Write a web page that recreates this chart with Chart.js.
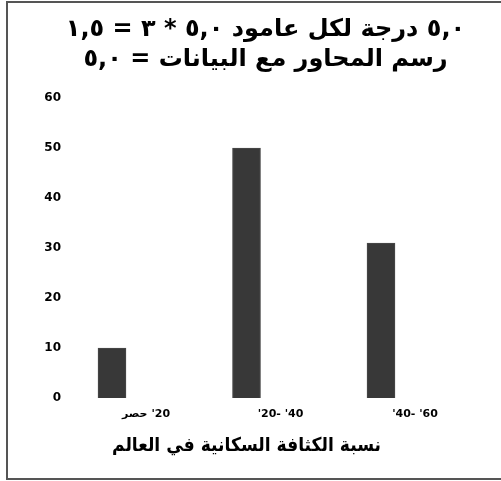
<!DOCTYPE html>
<html>
<head>
<meta charset="utf-8">
<script src="https://cdn.jsdelivr.net/npm/chart.js@4"></script>
<style>
  html, body { margin: 0; padding: 0; background: #fff; }
  #wrap { position: relative; width: 501px; height: 481px; overflow: hidden; }
  #frame { position: absolute; left: 6px; top: 1px; width: 520px; height: 479px;
           border-left: 2px solid #555; border-top: 2px solid #555; border-bottom: 2px solid #555; box-sizing: border-box; }
  canvas { position: absolute; left: 0; top: 0; }
</style>
</head>
<body>
<div id="wrap">
  <canvas id="c" width="501" height="481"></canvas>
  <div id="frame"></div>
</div>
<script>
const titleLines = ["٥,٠ درجة لكل عامود ٥,٠ * ٣ = ١,٥", "رسم المحاور مع البيانات = ٥,٠"];
const categories = ["حصر\u200E '20", "'20- '40", "'40- '60"];
const values = [10, 50, 31];
const yTicks = { min: 0, max: 60, step: 10 };
const xTitle = "نسبة الكثافة السكانية في العالم";

new Chart(document.getElementById('c'), {
  type: 'bar',
  data: {
    labels: categories,
    datasets: [{
      data: values,
      backgroundColor: '#383838',
      borderColor: '#4a4a4a',
      borderWidth: 1,
      barThickness: 28,
      clip: false
    }]
  },
  options: {
    responsive: false,
    animation: false,
    layout: { padding: { left: 30, right: 0, top: 0, bottom: 24 } },
    plugins: {
      legend: { display: false },
      tooltip: { enabled: false },
      title: {
        display: true,
        text: titleLines,
        color: '#000',
        font: { family: 'DejaVu Sans', size: 24, weight: 'bold', lineHeight: '30px' },
        padding: { top: 15, bottom: 23 }
      }
    },
    scales: {
      x: {
        offset: false,
        grid: { display: false, drawTicks: false },
        border: { display: false },
        ticks: {
          color: '#000',
          font: { family: 'DejaVu Sans', size: 11, weight: 'bold' },
          padding: 10,
          labelOffset: 34,
          maxRotation: 0
        },
        title: {
          display: true,
          text: xTitle,
          align: 'start',
          color: '#000',
          font: { family: 'DejaVu Sans', size: 19, weight: 'bold', lineHeight: 1.2 },
          padding: { top: 3, bottom: 0 }
        }
      },
      y: {
        min: yTicks.min,
        max: yTicks.max,
        grid: { display: false, drawTicks: false },
        border: { display: false },
        afterFit: s => { s.width = 82; },
        ticks: {
          stepSize: yTicks.step,
          color: '#000',
          font: { family: 'DejaVu Sans', size: 12, weight: 'bold' },
          padding: 51
        }
      },
      yRight: {
        position: 'right',
        grid: { display: false, drawTicks: false },
        border: { display: false },
        ticks: { display: false },
        afterFit: s => { s.width = 120; }
      }
    }
  }
});
</script>
</body>
</html>
